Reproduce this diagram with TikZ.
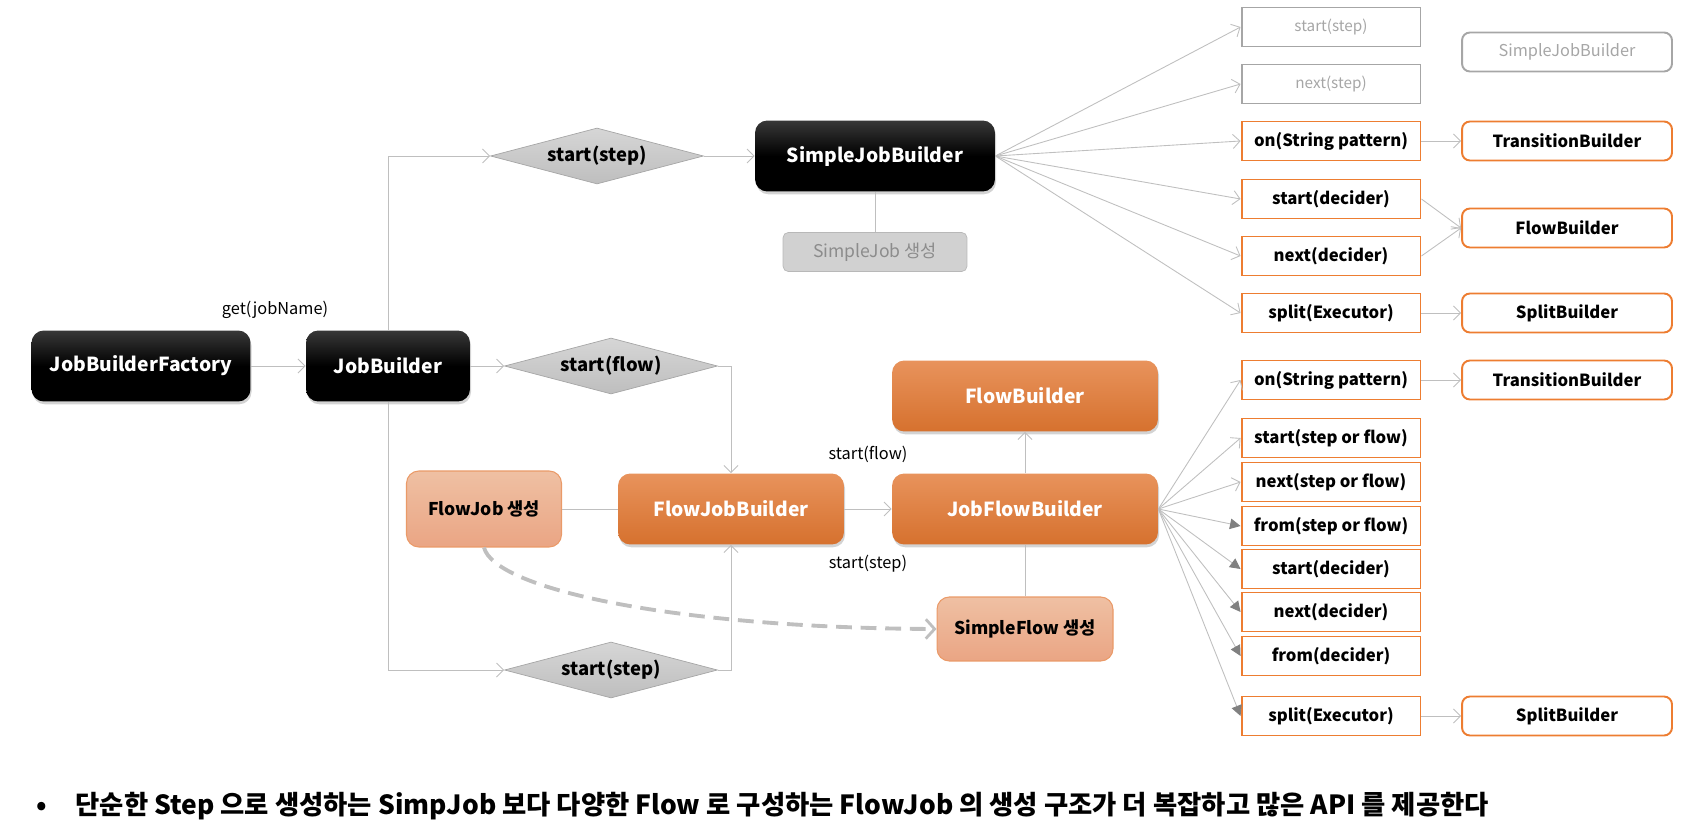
\documentclass[tikz,border=0pt]{standalone}
\usepackage{fontspec}
\setmainfont{Noto Sans CJK KR}
\usetikzlibrary{arrows.meta, shapes.geometric, shadows}

\definecolor{lineg}{HTML}{BFBFBF}
\definecolor{orgline}{HTML}{ED7D31}
\definecolor{orgtop}{HTML}{E8935C}
\definecolor{orgbot}{HTML}{D6712E}
\definecolor{paletop}{HTML}{EFC0A3}
\definecolor{palebot}{HTML}{EAA584}
\definecolor{paleline}{HTML}{EA9A68}
\definecolor{dmdtop}{HTML}{D6D6D6}
\definecolor{dmdbot}{HTML}{BEBEBE}
\definecolor{txtg}{HTML}{A6A6A6}

\begin{document}
\begin{tikzpicture}[
  x=0.02cm, y=-0.02cm,
  shd/.style={drop shadow={shadow xshift=0.6pt, shadow yshift=-1.6pt, opacity=0.35}},
  blkb/.style={rounded corners=7pt, top color=black!78, bottom color=black,
               middle color=black, text=white, shd,
               font=\fontsize{11}{13}\selectfont\bfseries,
               minimum height=1.42cm, inner sep=2pt},
  blko/.style={rounded corners=7pt, top color=orgtop, bottom color=orgbot,
               text=white, shd,
               font=\fontsize{11}{13}\selectfont\bfseries,
               minimum height=1.42cm, inner sep=2pt},
  blkp/.style={rounded corners=7pt, top color=paletop, bottom color=palebot,
               draw=paleline, line width=0.6pt,
               font=\fontsize{10}{12}\selectfont\bfseries, inner sep=2pt},
  dmd/.style={diamond, aspect=5, inner sep=0pt, top color=dmdtop,
              bottom color=dmdbot, draw=black!35, line width=0.4pt,
              minimum width=4.26cm, minimum height=1.12cm,
              font=\fontsize{10.5}{12}\selectfont\bfseries},
  mth/.style={draw=orgline, line width=1.1pt, minimum width=3.58cm,
              minimum height=0.78cm, inner sep=0pt,
              font=\fontsize{9.5}{11}\selectfont\bfseries},
  mthg/.style={mth, draw=txtg, text=txtg, font=\fontsize{8.7}{10}\selectfont},
  res/.style={mth, rounded corners=4.5pt, minimum width=4.2cm},
  resg/.style={res, draw=txtg, text=txtg, font=\fontsize{9.3}{11}\selectfont},
  lbl/.style={font=\fontsize{9.3}{11}\selectfont},
  arr/.style={draw=lineg, line width=0.5pt, -{Straight Barb[length=4pt, width=8pt]}},
  arrf/.style={draw=lineg, line width=0.5pt, -{Triangle[length=6pt, width=6pt, color=gray]}},
  ln/.style={draw=lineg, line width=0.5pt},
]
\useasboundingbox (0,0) rectangle (1706,834);

% ---- entry: factory and JobBuilder ------------------------------------------
\node[blkb, minimum width=4.38cm] (jbf) at (141,366) {JobBuilderFactory};
\node[blkb, minimum width=3.28cm] (jb) at (388,366) {JobBuilder};
\draw[arr] (jbf.east) -- (jb.west);
\node[lbl] (get) at (275,310) {get(jobName)};

% ---- three ways out of JobBuilder --------------------------------------------
\node[dmd] (ds1) at (597,156) {start(step)};
\node[dmd] (ds2) at (611,366) {start(flow)};
\node[dmd] (ds3) at (611,670) {start(step)};
\draw[arr] (jb.north) |- (ds1.west);
\draw[arr] (jb.east) -- (ds2.west);
\draw[arr] (jb.south) |- (ds3.west);

% ---- SimpleJobBuilder ---------------------------------------------------------
\node[blkb, minimum width=4.8cm] (sjb) at (875,156) {SimpleJobBuilder};
\draw[arr] (ds1.east) -- (sjb.west);
\node[rounded corners=3pt, fill=black!18, draw=black!28, text=black!45,
      minimum width=3.68cm, minimum height=0.78cm,
      font=\fontsize{10}{12}\selectfont] (sjg) at (875,252) {SimpleJob 생성};
\draw[ln] (sjb.south) -- (sjg.north);

% ---- SimpleJobBuilder methods -------------------------------------------------
\node[mthg] (st1) at (1331,27) {start(step)};
\node[mthg] (nx1) at (1331,84) {next(step)};
\node[mth] (on1) at (1331,141) {on(String pattern)};
\node[mth] (sd1) at (1331,199) {start(decider)};
\node[mth] (nd1) at (1331,256) {next(decider)};
\node[mth] (sp1) at (1331,313) {split(Executor)};
\foreach \m in {st1, nx1, on1, sd1, nd1, sp1}
  \draw[arr] (sjb.east) -- (\m.west);

\node[resg] (sjr) at (1567,52) {SimpleJobBuilder};
\node[res] (tb1) at (1567,141) {TransitionBuilder};
\node[res] (fbr) at (1567,228) {FlowBuilder};
\node[res] (spb1) at (1567,313) {SplitBuilder};
\draw[arr] (on1.east) -- (tb1.west);
\draw[arr] (sd1.east) -- (fbr.west);
\draw[arr] (nd1.east) -- (fbr.west);
\draw[arr] (sp1.east) -- (spb1.west);

% ---- FlowJobBuilder / JobFlowBuilder ------------------------------------------
\node[blkp, minimum width=3.1cm, minimum height=1.52cm] (fjc) at (484,509) {FlowJob 생성};
\node[blko, minimum width=4.52cm] (fjb) at (731,509) {FlowJobBuilder};
\node[blko, minimum width=5.32cm] (jfb) at (1025,509) {JobFlowBuilder};
\node[blko, minimum width=5.32cm] (flb) at (1025,396) {FlowBuilder};
\node[blkp, minimum width=3.52cm, minimum height=1.28cm] (sfc) at (1025,629) {SimpleFlow 생성};

\draw[arr] (ds2.east) -| (fjb.north);
\draw[arr] (ds3.east) -| (fjb.south);
\draw[ln] (fjc.east) -- (fjb.west);
\draw[arr] (fjb.east) -- (jfb.west)
  node[lbl, midway, above=0.8cm] {start(flow)}
  node[lbl, midway, below=0.8cm] {start(step)};
\draw[arr] (jfb.north) -- (flb.south);
\draw[ln] (sfc.north) -- (jfb.south);
\draw[draw=lineg, line width=2.2pt, dash pattern=on 9pt off 5pt,
      -{Straight Barb[length=5pt, width=11pt, line width=1.6pt]}]
  (fjc.south) .. controls (495,590) and (680,628) .. (sfc.west);

% ---- JobFlowBuilder methods ---------------------------------------------------
\node[mth] (on2) at (1331,380) {on(String pattern)};
\node[mth] (ss2) at (1331,438) {start(step or flow)};
\node[mth] (ns2) at (1331,482) {next(step or flow)};
\node[mth] (fs2) at (1331,526) {from(step or flow)};
\node[mth] (sd2) at (1331,569) {start(decider)};
\node[mth] (nd2) at (1331,612) {next(decider)};
\node[mth] (fd2) at (1331,656) {from(decider)};
\node[mth] (sp2) at (1331,716) {split(Executor)};
\foreach \m in {on2, ss2, ns2}
  \draw[arr] (jfb.east) -- (\m.west);
\foreach \m in {fs2, sd2, nd2, fd2, sp2}
  \draw[arrf] (jfb.east) -- (\m.west);

\node[res] (tb2) at (1567,380) {TransitionBuilder};
\node[res] (spb2) at (1567,716) {SplitBuilder};
\draw[arr] (on2.east) -- (tb2.west);
\draw[arr] (sp2.east) -- (spb2.west);

% ---- note ---------------------------------------------------------------------
\node[anchor=west, font=\fontsize{15}{18}\selectfont\bfseries] (note) at (30,806)
  {•\hspace{1.1em}단순한 Step 으로 생성하는 SimpJob 보다 다양한 Flow 로 구성하는 FlowJob 의 생성 구조가 더 복잡하고 많은 API 를 제공한다};

\end{tikzpicture}
\end{document}
